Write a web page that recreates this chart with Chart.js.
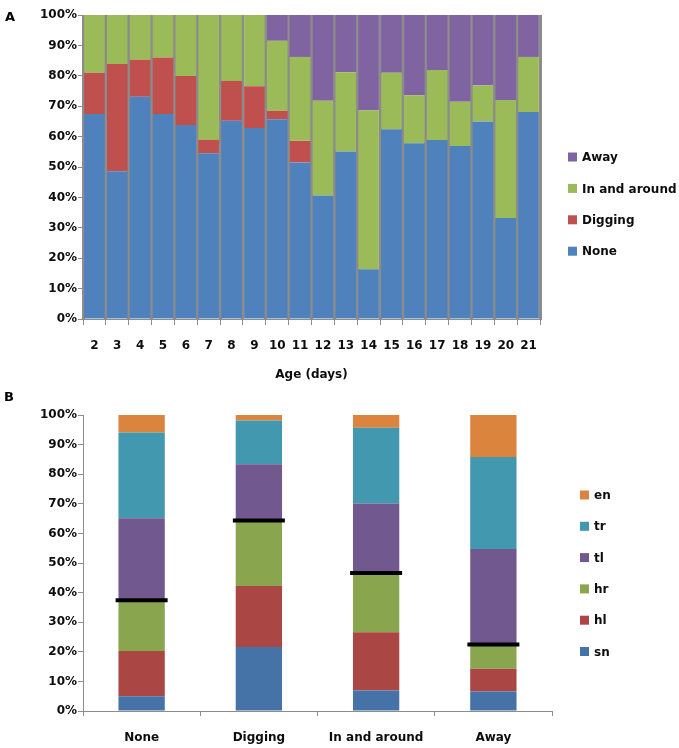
<!DOCTYPE html>
<html>
<head>
<meta charset="utf-8">
<script src="https://cdn.jsdelivr.net/npm/chart.js@4.4.1/dist/chart.umd.min.js"></script>
<style>
  body { margin: 0; background: #fff; width: 679px; height: 748px; overflow: hidden; position: relative; }
  .panel { position: absolute; left: 0; width: 679px; }
  .tag { position: absolute; font: bold 13px "DejaVu Sans"; color: #000; }
</style>
</head>
<body>
<div class="panel" style="top:0;height:385px"><canvas id="chartA"></canvas></div>
<div class="panel" style="top:385px;height:363px"><canvas id="chartB"></canvas></div>
<div class="tag" style="left:5px;top:9px">A</div>
<div class="tag" style="left:4px;top:389px">B</div>
<script>
// panel A - behaviour by age (percent of observations)
const ages = ['2', '3', '4', '5', '6', '7', '8', '9', '10', '11', '12', '13', '14', '15', '16', '17', '18', '19', '20', '21'];
const noneA = [67.4, 48.6, 73.1, 67.4, 63.8, 54.5, 65.2, 62.8, 65.7, 51.5, 40.6, 55.1, 16.4, 62.4, 57.8, 58.9, 56.9, 65.0, 33.2, 68.1];
const diggingA = [13.6, 35.3, 12.2, 18.6, 16.1, 4.4, 13.1, 13.8, 2.8, 7.1, 0, 0, 0, 0, 0, 0, 0, 0, 0, 0];
const aroundA = [19.0, 16.1, 14.7, 14.0, 20.1, 41.1, 21.7, 23.4, 23.0, 27.6, 31.2, 26.1, 52.3, 18.6, 15.8, 23.0, 14.6, 11.8, 38.8, 18.1];
const awayA = [0, 0, 0, 0, 0, 0, 0, 0, 8.5, 13.8, 28.2, 18.8, 31.3, 19.0, 26.4, 18.1, 28.5, 23.2, 28.0, 13.8];

// panel B - body part per behaviour
const behaviours = ['None', 'Digging', 'In and around', 'Away'];
const sn = [5.0, 21.6, 6.9, 6.6];
const hl = [15.3, 20.6, 19.7, 7.7];
const hr = [17.1, 22.2, 20.0, 8.2];
const tl = [27.7, 19.0, 23.5, 32.2];
const tr = [29.0, 14.7, 25.6, 31.1];
const en = [5.9, 1.9, 4.3, 14.2];
const headLine = [37.4, 64.4, 46.6, 22.5];

const pctTicks = [0, 10, 20, 30, 40, 50, 60, 70, 80, 90, 100];

const FONT = { family: 'DejaVu Sans', size: 12, weight: 'bold' };
const TXT = '#0d0d0d';
const AXIS = '#8c8c8c';

// legend drawn at the right side, reversed order like Excel
const sideLegend = {
  id: 'sideLegend',
  afterDraw(chart, args, opts) {
    const ctx = chart.ctx;
    const items = chart.data.datasets.filter(d => d.type !== 'line').slice().reverse();
    ctx.save();
    ctx.font = 'bold 12px "DejaVu Sans"';
    ctx.textBaseline = 'middle';
    items.forEach((d, i) => {
      const y = opts.top + i * opts.gap;
      ctx.fillStyle = d.backgroundColor;
      ctx.fillRect(opts.left, y - opts.box / 2, opts.box, opts.box);
      ctx.fillStyle = TXT;
      ctx.fillText(d.label, opts.left + opts.box + 5, y + 1);
    });
    ctx.restore();
  }
};

function pctAxis(width) {
  return {
    stacked: true,
    min: 0,
    max: 100,
    afterBuildTicks: s => { s.ticks = pctTicks.map(v => ({ value: v })); },
    afterFit: s => { s.width = width; },
    ticks: { font: FONT, color: TXT, padding: 1, callback: v => v + '%' },
    grid: { drawOnChartArea: false, tickLength: 5, color: AXIS },
    border: { color: AXIS }
  };
}

new Chart(document.getElementById('chartA'), {
  type: 'bar',
  data: {
    labels: ages,
    datasets: [
      { label: 'None', data: noneA, backgroundColor: '#4f81bd' },
      { label: 'Digging', data: diggingA, backgroundColor: '#c0504d' },
      { label: 'In and around', data: aroundA, backgroundColor: '#9bbb59' },
      { label: 'Away', data: awayA, backgroundColor: '#8064a2' }
    ]
  },
  options: {
    responsive: true,
    maintainAspectRatio: false,
    animation: false,
    layout: { padding: { top: 15, right: 139, left: 0, bottom: 0 } },
    datasets: { bar: { barPercentage: 0.9, categoryPercentage: 1, borderWidth: 0 } },
    plugins: {
      legend: { display: false },
      tooltip: { enabled: false },
      sideLegend: { left: 568, top: 157, gap: 31.4, box: 9 }
    },
    scales: {
      x: {
        stacked: true,
        afterFit: s => { s.height = 66; },
        ticks: { font: FONT, color: TXT, padding: 14, maxRotation: 0, autoSkip: false },
        grid: { offset: true, color: AXIS, lineWidth: 3, tickLength: 6, tickWidth: 1, tickColor: AXIS },
        border: { color: AXIS },
        title: { display: true, text: 'Age (days)', font: FONT, color: TXT, padding: { top: 0, bottom: 3 } }
      },
      y: pctAxis(83)
    }
  },
  plugins: [sideLegend]
});

new Chart(document.getElementById('chartB'), {
  type: 'bar',
  data: {
    labels: behaviours,
    datasets: [
      { type: 'line', label: 'head', data: headLine, stack: 'mark', order: 0,
        showLine: false, pointStyle: 'line', pointRadius: 26, pointHoverRadius: 26,
        pointBorderWidth: 4, borderColor: '#000', backgroundColor: '#000' },
      { label: 'sn', data: sn, backgroundColor: '#4572a7', order: 1 },
      { label: 'hl', data: hl, backgroundColor: '#aa4643', order: 1 },
      { label: 'hr', data: hr, backgroundColor: '#89a54e', order: 1 },
      { label: 'tl', data: tl, backgroundColor: '#71588f', order: 1 },
      { label: 'tr', data: tr, backgroundColor: '#4198af', order: 1 },
      { label: 'en', data: en, backgroundColor: '#db843d', order: 1 }
    ]
  },
  options: {
    responsive: true,
    maintainAspectRatio: false,
    animation: false,
    layout: { padding: { top: 14, right: 127, left: 0, bottom: 0 } },
    datasets: { bar: { barPercentage: 0.5, categoryPercentage: 0.79, borderWidth: 0 } },
    plugins: {
      legend: { display: false },
      tooltip: { enabled: false },
      sideLegend: { left: 580, top: 110, gap: 31.3, box: 9 }
    },
    scales: {
      x: {
        stacked: true,
        afterFit: s => { s.height = 37; },
        ticks: { font: FONT, color: TXT, padding: 15, maxRotation: 0 },
        grid: { offset: true, drawOnChartArea: false, tickLength: 5, color: AXIS },
        border: { color: AXIS }
      },
      y: pctAxis(83)
    }
  },
  plugins: [sideLegend]
});
</script>
</body>
</html>
